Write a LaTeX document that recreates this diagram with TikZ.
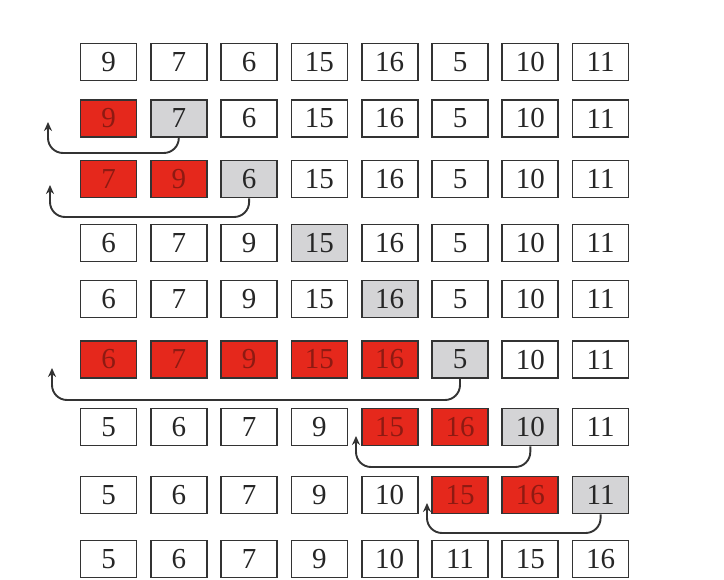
\documentclass[tikz,border=0pt]{standalone}
\usepackage{fontspec}
\setmainfont{Liberation Serif}
\usetikzlibrary{arrows.meta}
\definecolor{cellred}{HTML}{E5281C}
\definecolor{cellredtext}{HTML}{8E1A12}
\definecolor{cellgray}{HTML}{D4D4D6}
\begin{document}
\begin{tikzpicture}[x=1pt,y=-1pt,
  cell/.style={draw=black!80, line width=1.7pt, minimum width=56pt, minimum height=37pt,
    inner sep=0pt, font=\fontsize{29}{29}\selectfont, text=black!85},
  wc/.style={fill=white},
  rc/.style={fill=cellred, text=cellredtext},
  gc/.style={fill=cellgray},
  back/.style={-{Stealth[length=9pt,width=8pt]}, line width=1.9pt, draw=black!80, rounded corners=15pt}]
\fill[white] (0,0) rectangle (724,580);
\useasboundingbox (0,0) rectangle (724,580);
\foreach \r/\y/\cells in {
  1/62/{9/wc,7/wc,6/wc,15/wc,16/wc,5/wc,10/wc,11/wc},
  2/118.5/{9/rc,7/gc,6/wc,15/wc,16/wc,5/wc,10/wc,11/wc},
  3/179/{7/rc,9/rc,6/gc,15/wc,16/wc,5/wc,10/wc,11/wc},
  4/243/{6/wc,7/wc,9/wc,15/gc,16/wc,5/wc,10/wc,11/wc},
  5/299/{6/wc,7/wc,9/wc,15/wc,16/gc,5/wc,10/wc,11/wc},
  6/359.5/{6/rc,7/rc,9/rc,15/rc,16/rc,5/gc,10/wc,11/wc},
  7/427/{5/wc,6/wc,7/wc,9/wc,15/rc,16/rc,10/gc,11/wc},
  8/495/{5/wc,6/wc,7/wc,9/wc,10/wc,15/rc,16/rc,11/gc},
  9/559/{5/wc,6/wc,7/wc,9/wc,10/wc,11/wc,15/wc,16/wc}}{
  \foreach \v/\s [count=\c] in \cells {
    \node[cell,\s] (r\r c\c) at ({108.5+70.3*(\c-1)},\y) {\v};
  }
}
% arrows
\coordinate (h2) at (48,153);  \coordinate (t2) at (48,122);
\coordinate (h3) at (50,217);  \coordinate (t3) at (50,185);
\coordinate (h6) at (52,400);  \coordinate (t6) at (52,368);
\coordinate (h7) at (356,467); \coordinate (t7) at (356,436);
\coordinate (h8) at (427,533); \coordinate (t8) at (427,503);
\draw[back] (r2c2.south) |- (h2) -- (t2);
\draw[back] (r3c3.south) |- (h3) -- (t3);
\draw[back] (r6c6.south) |- (h6) -- (t6);
\draw[back] (r7c7.south) |- (h7) -- (t7);
\draw[back] (r8c8.south) |- (h8) -- (t8);
\end{tikzpicture}
\end{document}
